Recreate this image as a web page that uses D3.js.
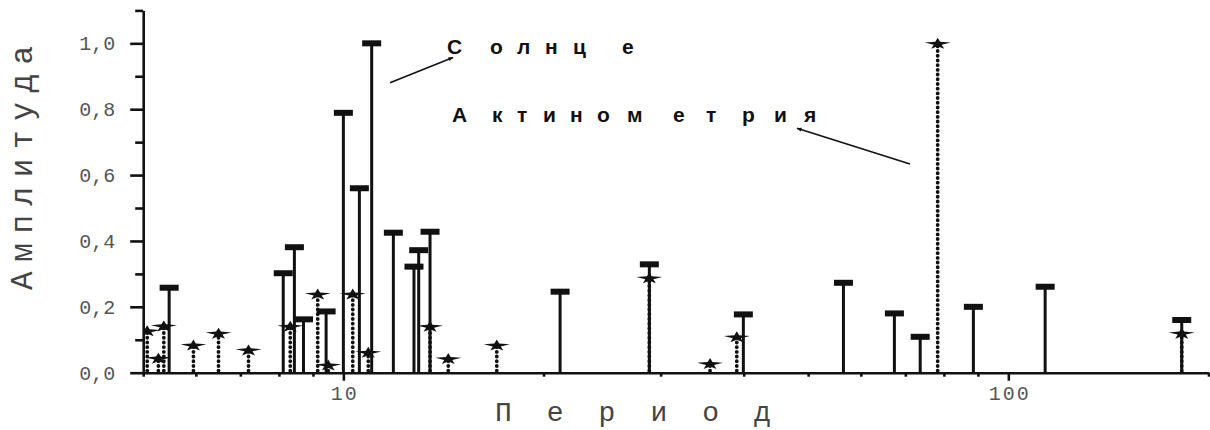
<!DOCTYPE html>
<html><head><meta charset="utf-8">
<script src="https://cdn.jsdelivr.net/npm/d3@7"></script>
<style>body{margin:0;background:#fff;overflow:hidden}</style>
</head><body>
<svg id="chart" width="1210" height="430"></svg>
<script>
// ---- data ----
const sunPeriods = [5.47, 8.12, 8.44, 8.71, 9.42, 10.0, 10.57, 11.03, 11.89, 12.77, 12.98, 13.5, 21.18, 28.85, 39.95, 56.5, 67.4, 73.7, 88.6, 113.6, 182.3];
const sunAmps    = [0.258, 0.302, 0.381, 0.162, 0.186, 0.789, 0.56, 1.0, 0.425, 0.322, 0.372, 0.428, 0.246, 0.329, 0.177, 0.273, 0.18, 0.109, 0.2, 0.261, 0.16];
const actPeriods = [5.07, 5.27, 5.37, 5.95, 6.49, 7.20, 8.32, 9.15, 9.49, 10.33, 10.9, 13.5, 14.38, 17.01, 28.85, 35.6, 39.05, 78.3, 182.3];
const actAmps    = [0.127, 0.044, 0.142, 0.084, 0.12, 0.069, 0.141, 0.239, 0.023, 0.239, 0.062, 0.141, 0.043, 0.084, 0.288, 0.028, 0.109, 1.0, 0.12];
const yMajorTicks = [0, 0.2, 0.4, 0.6, 0.8, 1.0];
const yTickLabels = ["0,0", "0,2", "0,4", "0,6", "0,8", "1,0"];
const yMinorTicks = [0.1, 0.3, 0.5, 0.7, 0.9, 1.1];
const xMajorTicks = [10, 100];
const xTickLabels = ["10", "100"];
const xMinorTicks = [5, 6, 7, 8, 9, 20, 30, 40, 50, 60, 70, 80, 90, 200];
const xTitle = "Период";
const yTitle = "Амплитуда";
const sunLabel = "Солнце";
const actLabel = "Актинометрия";

// ---- scales ----
const svg = d3.select("#chart");
const x = d3.scaleLog().domain([5, 200]).range([143.2, 1208.5]);
const y = d3.scaleLinear().domain([0, 1.1]).range([372.7, 10.4]);
const mono = "'Liberation Mono','Courier New',monospace";

// clip data to the plot area
svg.append("defs").append("clipPath").attr("id", "plotclip")
  .append("rect").attr("x", x(5)).attr("y", 0).attr("width", 1210 - x(5)).attr("height", y(0) + 2);
svg.select("defs").append("marker").attr("id", "arr")
  .attr("viewBox", "0 0 10 10").attr("refX", 9).attr("refY", 5)
  .attr("markerWidth", 8).attr("markerHeight", 5).attr("orient", "auto")
  .attr("markerUnits", "userSpaceOnUse")
  .append("path").attr("d", "M0,1 L10,5 L0,9 Z").attr("fill", "#111");

const plot = svg.append("g").attr("clip-path", "url(#plotclip)");

// ---- Solar (solid stems with T caps) ----
const sun = sunPeriods.map((p, i) => ({p, v: sunAmps[i]}));
plot.selectAll(".sstem").data(sun).join("line")
  .attr("x1", d => x(d.p)).attr("x2", d => x(d.p))
  .attr("y1", y(0)).attr("y2", d => y(d.v))
  .attr("stroke", "#111").attr("stroke-width", 3);
plot.selectAll(".scap").data(sun).join("rect")
  .attr("x", d => x(d.p) - 9.5).attr("y", d => y(d.v) - 3)
  .attr("width", 19).attr("height", 6).attr("fill", "#111");

// ---- Actinometry (dotted stems with star markers) ----
const act = actPeriods.map((p, i) => ({p, v: actAmps[i]}));
plot.selectAll(".astem").data(act).join("line")
  .attr("x1", d => x(d.p)).attr("x2", d => x(d.p))
  .attr("y1", y(0) - 2).attr("y2", d => y(d.v))
  .attr("stroke", "#111").attr("stroke-width", 3.8)
  .attr("stroke-linecap", "round").attr("stroke-dasharray", "0.1 4.6");
const starD = "M0,-5.5 L2.4,-1.6 L13,-0.8 L4,1.4 L6.5,5.5 L0,3 L-6.5,5.5 L-4,1.4 L-13,-0.8 L-2.4,-1.6 Z";
plot.selectAll(".astar").data(act).join("path")
  .attr("d", starD)
  .attr("transform", d => `translate(${x(d.p)},${y(d.v)})`)
  .attr("fill", "#111");

// ---- axes ----
const yAxisMajor = svg.append("g").attr("transform", `translate(${x(5)},0)`)
  .call(d3.axisLeft(y).tickValues(yMajorTicks).tickSize(13).tickSizeOuter(0).tickPadding(15)
        .tickFormat((d, i) => yTickLabels[i]));
const yAxisMinor = svg.append("g").attr("transform", `translate(${x(5)},0)`)
  .call(d3.axisLeft(y).tickValues(yMinorTicks).tickSize(8).tickSizeOuter(0).tickFormat(""));
const xAxisMajor = svg.append("g").attr("transform", `translate(0,${y(0)})`)
  .call(d3.axisBottom(x).tickValues(xMajorTicks).tickSize(8).tickSizeOuter(0)
        .tickFormat((d, i) => xTickLabels[i]));
const xAxisMinor = svg.append("g").attr("transform", `translate(0,${y(0)})`)
  .call(d3.axisBottom(x).tickValues(xMinorTicks).tickSize(4).tickSizeOuter(0).tickFormat(""));
yAxisMinor.select(".domain").remove();
xAxisMinor.select(".domain").remove();
svg.selectAll(".domain, .tick line").attr("stroke", "#111").attr("stroke-width", 2.6);
svg.selectAll(".tick text").attr("font-family", mono).attr("font-size", 20).attr("fill", "#555");
xAxisMajor.selectAll(".tick text").attr("y", 27.5).attr("dy", 0).attr("letter-spacing", 2).attr("dx", 1);

// ---- titles ----
svg.append("text").attr("x", 495).attr("y", 421)
  .attr("font-family", mono).attr("font-size", 28).attr("fill", "#444")
  .attr("letter-spacing", 35).text(xTitle);
svg.append("text").attr("transform", "translate(32,290) rotate(-90)")
  .attr("font-family", mono).attr("font-size", 31).attr("fill", "#444")
  .attr("letter-spacing", 9.6).text(yTitle);

// ---- annotations ----
const sans = "'Liberation Sans',Arial,sans-serif";
svg.append("text").attr("x", "447 490 517 545 573 622").attr("y", 53.5)
  .attr("font-family", sans).attr("font-size", 21).attr("font-weight", "bold").attr("fill", "#111")
  .text(sunLabel);
svg.append("text").attr("x", "452 492 517 543 570 597 627 673 706 742 774 804").attr("y", 121.7)
  .attr("font-family", sans).attr("font-size", 21).attr("font-weight", "bold").attr("fill", "#111")
  .text(actLabel);
svg.append("line").attr("x1", 390).attr("y1", 82.7).attr("x2", 453).attr("y2", 57.5)
  .attr("stroke", "#111").attr("stroke-width", 1.6).attr("marker-end", "url(#arr)");
svg.append("line").attr("x1", 910).attr("y1", 164).attr("x2", 797).attr("y2", 128.3)
  .attr("stroke", "#111").attr("stroke-width", 1.6).attr("marker-end", "url(#arr)");
</script>
</body></html>
